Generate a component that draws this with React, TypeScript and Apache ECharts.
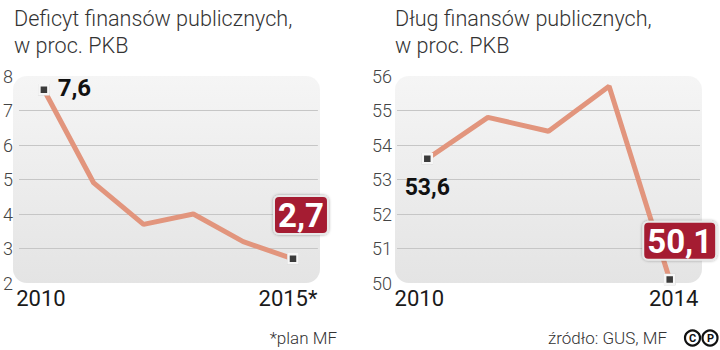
import React, { useEffect, useRef } from "react";
import * as echarts from "echarts";

const deficitYears = ["2010", "2011", "2012", "2013", "2014", "2015*"];
const deficitValues = [7.6, 4.9, 3.7, 4.0, 3.2, 2.7];
const debtYears = ["2010", "2011", "2012", "2013", "2014"];
const debtValues = [53.6, 54.8, 54.4, 55.7, 50.1];

const titleLeft = ["Deficyt finansów publicznych,", "w proc. PKB"];
const titleRight = ["Dług finansów publicznych,", "w proc. PKB"];
const noteLeft = "*plan MF";
const noteRight = "źródło: GUS, MF";

const FONT = "Roboto, 'Liberation Sans', sans-serif";
const LINE = "#e2957d";
const RED = "#a51c30";

const fmt = (v: number) => v.toFixed(1).replace(".", ",");

const boxLabel = (offX: number, dist: number) => ({
  show: true,
  position: "top",
  distance: dist,
  offset: [offX, 0],
  formatter: (p: any) => fmt(p.value),
  color: "#fff",
  fontFamily: FONT,
  fontWeight: "bold",
  fontSize: 33,
  lineHeight: 31,
  backgroundColor: RED,
  borderColor: "#e8e8e8",
  borderWidth: 2,
  borderRadius: 4,
  padding: [3, 3, 2, 3],
  shadowColor: "rgba(0,0,0,0.35)",
  shadowBlur: 3,
});

const endSymbol = {
  symbol: "rect",
  symbolSize: 9,
  itemStyle: {
    color: "#3a3a3a",
    borderColor: "#f6f6f6",
    borderWidth: 2.5,
    shadowColor: "rgba(0,0,0,0.5)",
    shadowBlur: 1.5,
  },
};

export default function App() {
  const ref = useRef<HTMLDivElement>(null);
  useEffect(() => {
    if (!ref.current) return;
    const chart = echarts.init(ref.current, undefined, { renderer: "svg" });

    const bgGrad = new echarts.graphic.LinearGradient(0, 0, 0, 1, [
      { offset: 0, color: "#f5f5f5" },
      { offset: 1, color: "#e4e4e4" },
    ]);

    const deficitData = deficitValues.map((v, i) => {
      if (i === 0)
        return {
          value: v,
          ...endSymbol,
          label: {
            show: true,
            position: "right",
            distance: 8,
            offset: [0, -2],
            formatter: (p: any) => fmt(p.value),
            color: "#111",
            fontFamily: FONT,
            fontWeight: "bold",
            fontSize: 24,
          },
        };
      if (i === deficitValues.length - 1)
        return { value: v, ...endSymbol, label: boxLabel(8, 20) };
      return { value: v, symbol: "none" };
    });

    const debtData = debtValues.map((v, i) => {
      if (i === 0)
        return {
          value: v,
          ...endSymbol,
          label: {
            show: true,
            position: "bottom",
            distance: 11,
            formatter: (p: any) => fmt(p.value),
            color: "#111",
            fontFamily: FONT,
            fontWeight: "bold",
            fontSize: 23,
          },
        };
      if (i === debtValues.length - 1)
        return { value: v, ...endSymbol, label: boxLabel(10, 15) };
      return { value: v, symbol: "none" };
    });

    const xLabel = (n: number, shifts: number[]) => ({
      interval: 0,
      margin: 4,
      color: "#1a1a1a",
      fontFamily: FONT,
      fontSize: 22,
      formatter: (val: string, idx: number) =>
        idx === 0 ? `{a|${val}}` : idx === n - 1 ? `{b|${val}}` : "",
      rich: {
        a: { fontFamily: FONT, fontSize: 22, color: "#1a1a1a", padding: [0, shifts[0], 0, 0] },
        b: { fontFamily: FONT, fontSize: 22, color: "#1a1a1a", padding: [0, shifts[1], 0, shifts[2]] },
      },
    });

    const yAxisBase = (min: number, max: number, margin: number) => ({
      type: "value",
      min,
      max,
      interval: 1,
      axisLine: { show: false },
      axisTick: { show: false },
      axisLabel: {
        margin,
        color: "#444",
        fontFamily: FONT,
        fontWeight: 300,
        fontSize: 18,
      },
      splitLine: {
        show: true,
        showMinLine: false,
        showMaxLine: false,
        lineStyle: { color: "#c6c6c6", width: 1 },
      },
    });

    const titleText = (x: number, lines: string[]) => ({
      type: "text",
      left: x,
      top: 5,
      style: {
        text: lines.join("\n"),
        fill: "#333",
        font: `300 21.6px ${FONT}`,
        lineHeight: 27,
      },
    });

    chart.setOption({
      animation: false,
      backgroundColor: "#fff",
      grid: [
        { left: 15.5, top: 76, width: 302.4, height: 207 },
        { left: 397, top: 76, width: 303, height: 207 },
      ],
      xAxis: [
        {
          type: "category",
          gridIndex: 0,
          data: deficitYears,
          boundaryGap: true,
          axisLine: { show: false },
          axisTick: { show: false },
          axisLabel: xLabel(deficitYears.length, [6, 10, 0]),
        },
        {
          type: "category",
          gridIndex: 1,
          data: debtYears,
          boundaryGap: true,
          axisLine: { show: false },
          axisTick: { show: false },
          axisLabel: xLabel(debtYears.length, [16, 0, 8]),
        },
      ],
      yAxis: [
        { ...yAxisBase(2, 8, 6), gridIndex: 0 },
        { ...yAxisBase(50, 56, 5), gridIndex: 1 },
      ],
      series: [
        {
          type: "line",
          xAxisIndex: 0,
          yAxisIndex: 0,
          data: deficitData,
          lineStyle: { color: LINE, width: 5 },
          itemStyle: { color: "#3a3a3a" },
          z: 3,
        },
        {
          type: "line",
          xAxisIndex: 1,
          yAxisIndex: 1,
          data: debtData,
          lineStyle: { color: LINE, width: 5 },
          itemStyle: { color: "#3a3a3a" },
          z: 3,
        },
      ],
      graphic: [
        {
          type: "rect",
          z: -1,
          shape: { x: 13, y: 76, width: 307, height: 207, r: 14 },
          style: { fill: bgGrad },
          silent: true,
        },
        {
          type: "rect",
          z: -1,
          shape: { x: 395, y: 76, width: 307, height: 207, r: 14 },
          style: { fill: bgGrad },
          silent: true,
        },
        titleText(14, titleLeft),
        titleText(395, titleRight),
        {
          type: "text",
          x: 337,
          y: 338,
          style: {
            text: noteLeft,
            fill: "#333",
            font: `300 17px ${FONT}`,
            textAlign: "right",
            textVerticalAlign: "middle",
          },
        },
        {
          type: "text",
          x: 667,
          y: 338,
          style: {
            text: noteRight,
            fill: "#333",
            font: `300 17px ${FONT}`,
            textAlign: "right",
            textVerticalAlign: "middle",
          },
        },
        {
          type: "circle",
          shape: { cx: 692.5, cy: 338, r: 7.5 },
          style: { fill: "#fff", stroke: "#111", lineWidth: 2.2 },
        },
        {
          type: "circle",
          shape: { cx: 710, cy: 338, r: 7.5 },
          style: { fill: "#fff", stroke: "#111", lineWidth: 2.2 },
        },
        {
          type: "text",
          x: 692.5,
          y: 338.5,
          style: {
            text: "C",
            fill: "#111",
            font: `bold 11px ${FONT}`,
            textAlign: "center",
            textVerticalAlign: "middle",
          },
        },
        {
          type: "text",
          x: 710.5,
          y: 338.5,
          style: {
            text: "P",
            fill: "#111",
            font: `bold 11px ${FONT}`,
            textAlign: "center",
            textVerticalAlign: "middle",
          },
        },
      ],
    });
    return () => chart.dispose();
  }, []);
  return (
    <div
      ref={ref}
      style={{ position: "fixed", left: 0, top: 0, width: 720, height: 350 }}
    />
  );
}
